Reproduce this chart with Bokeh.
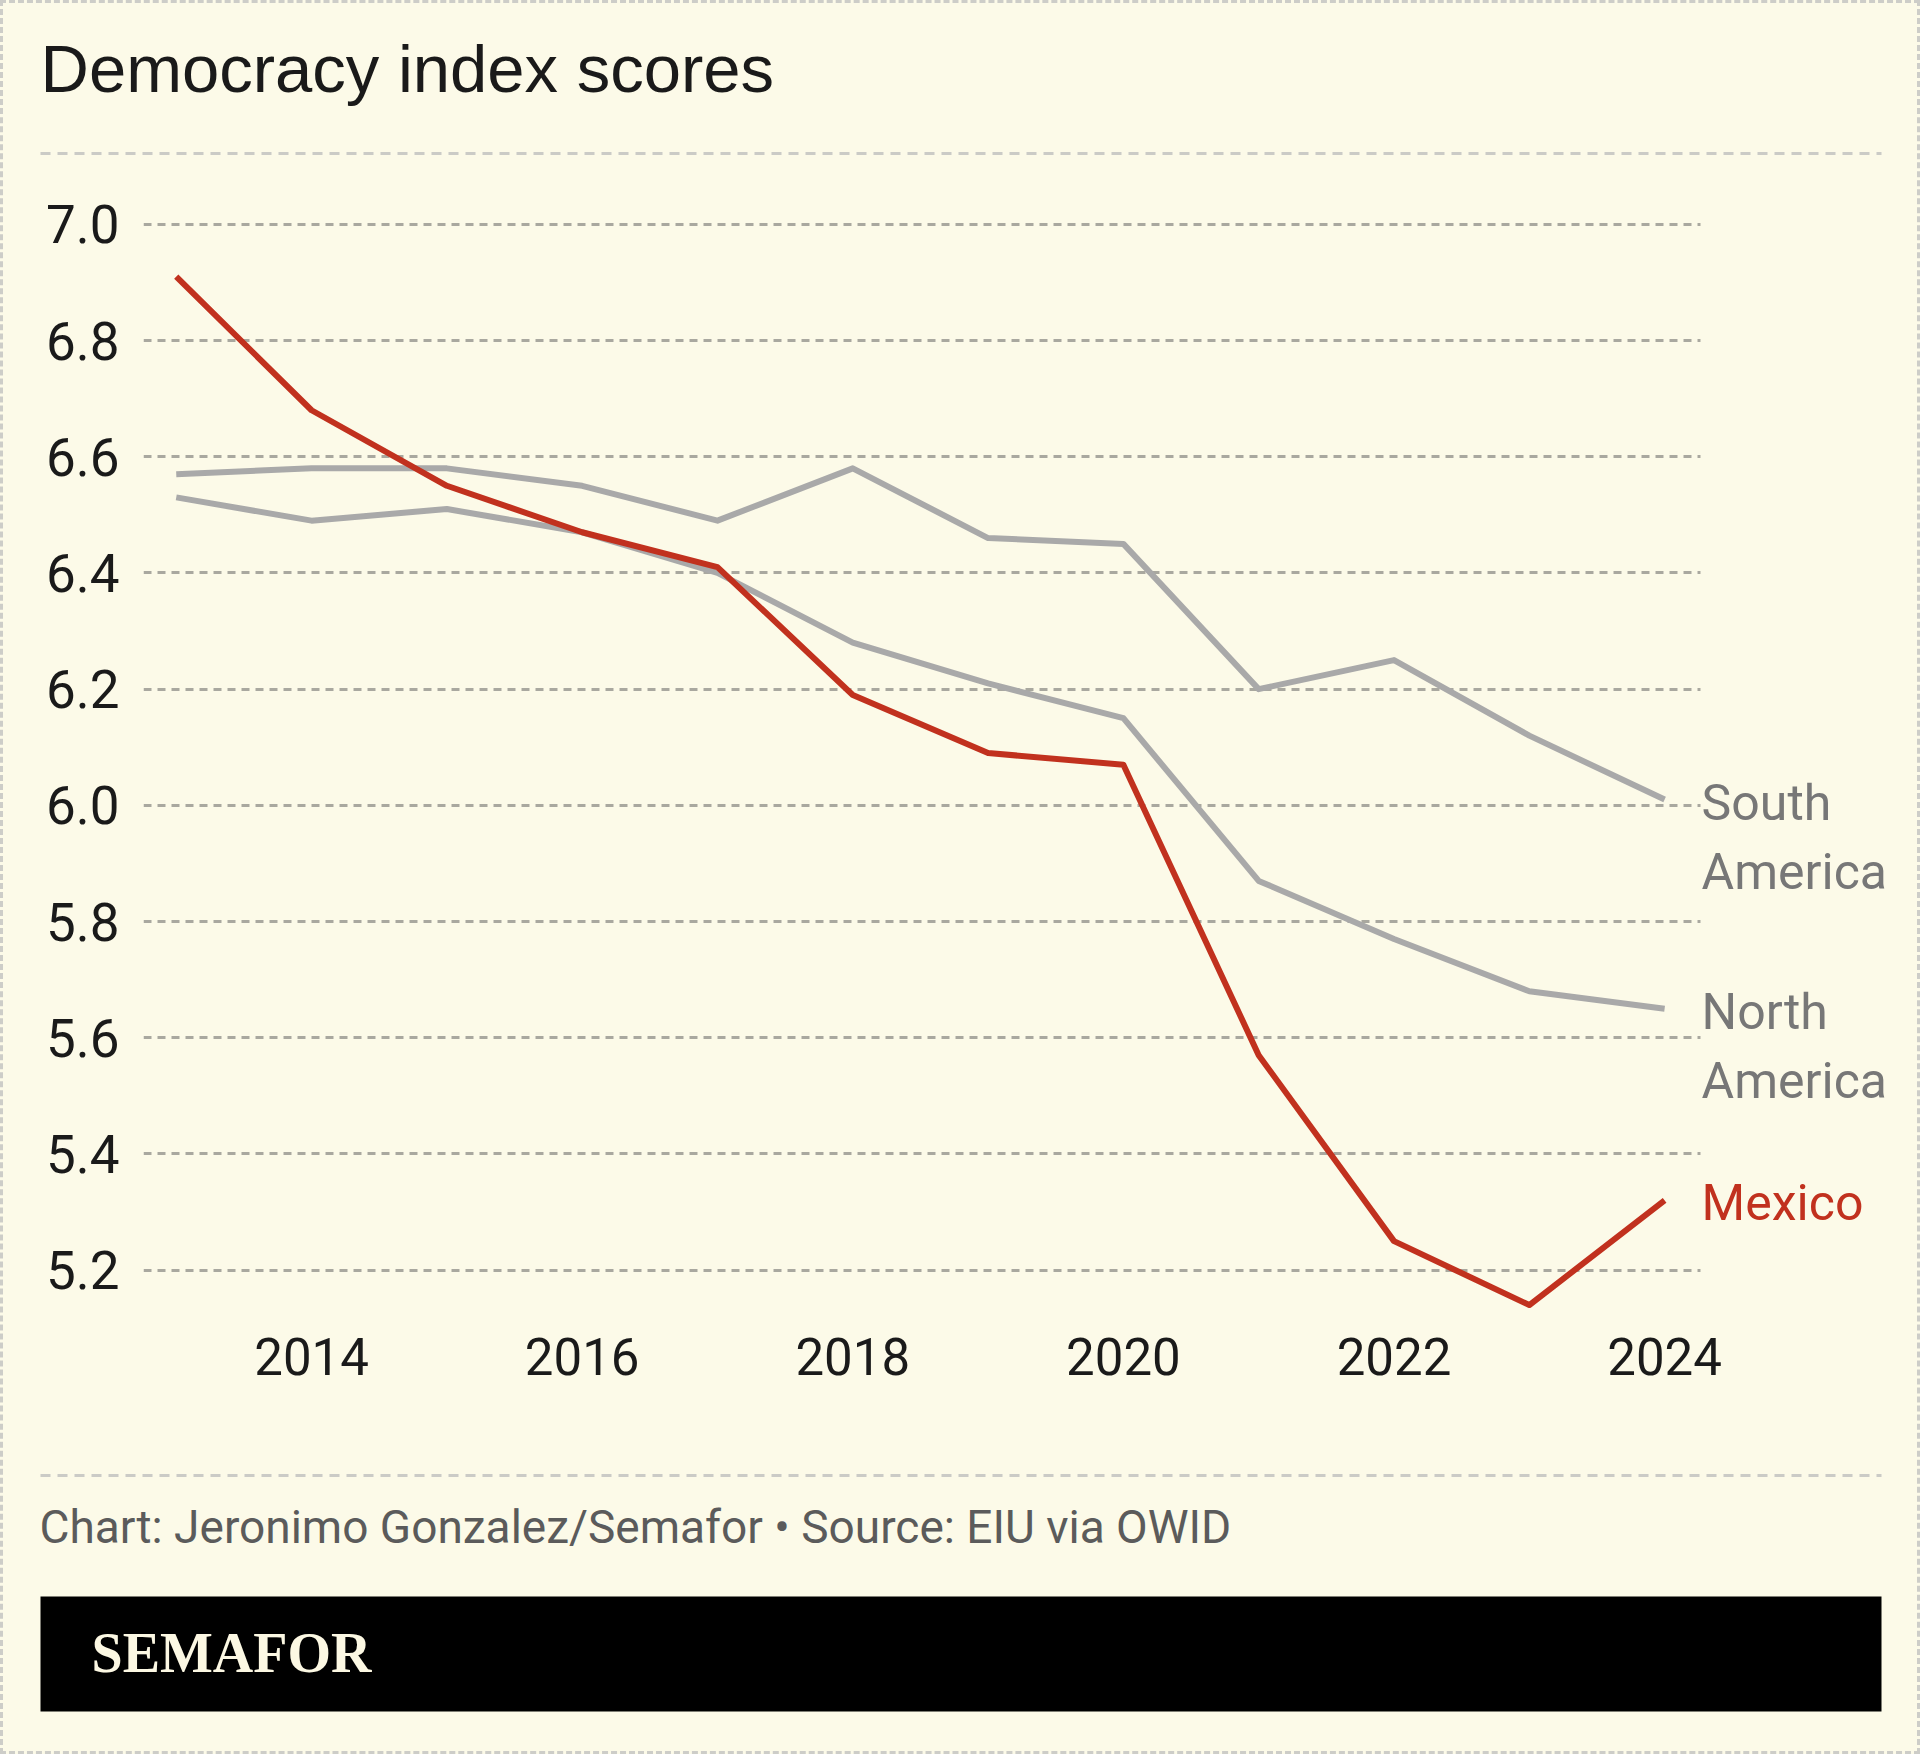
from bokeh.plotting import figure
from bokeh.models import Range1d, FixedTicker, ColumnDataSource, CustomJSTickFormatter
from bokeh.layouts import column
from bokeh.core.properties import value
from bokeh.embed import file_html
from bokeh.resources import INLINE

# ---------------- data ----------------
TITLE = "Democracy index scores"
SOURCE = "Chart: Jeronimo Gonzalez/Semafor \u2022 Source: EIU via OWID"
BRAND = "SEMAFOR"

years = [2013, 2014, 2015, 2016, 2017, 2018, 2019, 2020, 2021, 2022, 2023, 2024]
mexico = [6.91, 6.68, 6.55, 6.47, 6.41, 6.19, 6.09, 6.07, 5.57, 5.25, 5.14, 5.32]
south_america = [6.57, 6.58, 6.58, 6.55, 6.49, 6.58, 6.46, 6.45, 6.20, 6.25, 6.12, 6.01]
north_america = [6.53, 6.49, 6.51, 6.47, 6.40, 6.28, 6.21, 6.15, 5.87, 5.77, 5.68, 5.65]

series_names = ["South America", "North America", "Mexico"]
x_ticks = [2014, 2016, 2018, 2020, 2022, 2024]
y_ticks = [5.2, 5.4, 5.6, 5.8, 6.0, 6.2, 6.4, 6.6, 6.8, 7.0]

# ---------------- style ----------------
BG = "#fcfae8"
RED = "#c1311e"
GRAY = "#a9a9a9"
LABEL_GRAY = "#777777"
TXT = "#1a1a1a"
W = 1914
H_HDR, H_MAIN, H_FTR = 167, 1250, 331
SANS = "Roboto"
X_START, X_END, GRID_END = 2012.758, 2025.869, 2024.266


def no_align(f):
    try:
        f.frame_align = False
    except AttributeError:
        pass


def blank(h):
    f = figure(width=W, height=h, x_range=Range1d(0, W), y_range=Range1d(h, 0),
               toolbar_location=None, output_backend="svg", title=None,
               x_axis_location=None, y_axis_location=None, min_border=0)
    f.grid.visible = False
    f.outline_line_color = None
    f.background_fill_color = BG
    f.border_fill_color = BG
    no_align(f)
    return f


# ---------------- header ----------------
hdr = blank(H_HDR)
hdr.text(x=[37], y=[65], text=[TITLE], text_baseline="middle", text_align="left",
         text_font=value("Liberation Sans"), text_font_size="67px", text_color=TXT)
hdr.segment(x0=[37], y0=[150], x1=[1878], y1=[150], line_color="#cbcbc6",
            line_width=3, line_dash="10 7")

# ---------------- main chart ----------------
p = figure(width=W, height=H_MAIN, x_range=Range1d(X_START, X_END),
           y_range=Range1d(5.122, 7.041), toolbar_location=None, output_backend="svg",
           title=None, min_border_left=140, min_border_right=0,
           min_border_top=30, min_border_bottom=105)
no_align(p)
p.outline_line_color = None
p.background_fill_color = BG
p.border_fill_color = BG

GRID_KW = dict(line_color="#a9a89f", line_width=3, line_dash="8 6")
p.xgrid.visible = False
try:
    p.ygrid.cross_bounds = (X_START, GRID_END)
    p.ygrid.grid_line_color = GRID_KW["line_color"]
    p.ygrid.grid_line_width = GRID_KW["line_width"]
    p.ygrid.grid_line_dash = GRID_KW["line_dash"]
    p.ygrid.level = "underlay"
except AttributeError:
    p.ygrid.visible = False
    p.segment(x0=X_START, x1=GRID_END, y0=y_ticks, y1=y_ticks, level="underlay", **GRID_KW)

p.line(years, north_america, line_color=GRAY, line_width=6, line_join="round")
p.line(years, south_america, line_color=GRAY, line_width=6, line_join="round")
p.line(years, mexico, line_color=RED, line_width=6, line_join="round")

p.xaxis.ticker = FixedTicker(ticks=x_ticks)
p.yaxis.ticker = FixedTicker(ticks=y_ticks)
p.yaxis.formatter = CustomJSTickFormatter(code="return tick.toFixed(1)")
for ax in (p.xaxis, p.yaxis):
    ax.axis_line_color = None
    ax.major_tick_line_color = None
    ax.minor_tick_line_color = None
    ax.major_tick_out = 0
    ax.major_tick_in = 0
    ax.major_label_text_font = SANS
    ax.major_label_text_color = TXT
p.xaxis.major_label_text_font_size = "51px"
p.yaxis.major_label_text_font_size = "53px"
p.xaxis.major_label_standoff = 22
p.yaxis.major_label_standoff = 24

ends = [south_america[-1], north_america[-1], mexico[-1]]
first = [n.split(" ")[0] for n in series_names]
second = [n.split(" ")[1] if " " in n else "" for n in series_names]
colors = [LABEL_GRAY, LABEL_GRAY, RED]
src = ColumnDataSource(dict(x=[years[-1]] * 3, y=ends, t1=first, t2=second, c=colors))
LBL_KW = dict(text_baseline="middle", text_align="left", text_color="c",
              text_font=value(SANS), text_font_size="50px", x_offset=37, source=src)
p.text(x="x", y="y", text="t1", y_offset=3, **LBL_KW)
p.text(x="x", y="y", text="t2", y_offset=72, **LBL_KW)

# ---------------- footer ----------------
ftr = blank(H_FTR)
ftr.segment(x0=[37], y0=[55], x1=[1878], y1=[55], line_color="#cbcbc6",
            line_width=3, line_dash="10 7")
ftr.text(x=[36], y=[106], text=[SOURCE], text_baseline="middle", text_align="left",
         text_font=value(SANS), text_font_size="46px", text_color="#5b5b5b")
ftr.quad(left=[37], right=[1878], top=[176], bottom=[291], fill_color="#000000",
         line_color=None)
ftr.text(x=[88], y=[232], text=[BRAND], text_baseline="middle", text_align="left",
         text_font=value("Liberation Serif"), text_font_style="bold",
         text_font_size="56px", text_color="#fcf8e3")

layout = column(hdr, p, ftr, spacing=0,
                styles={"border": "3px dashed #cdcdc8", "background-color": BG})

open("out.html", "w").write(file_html(layout, INLINE))
